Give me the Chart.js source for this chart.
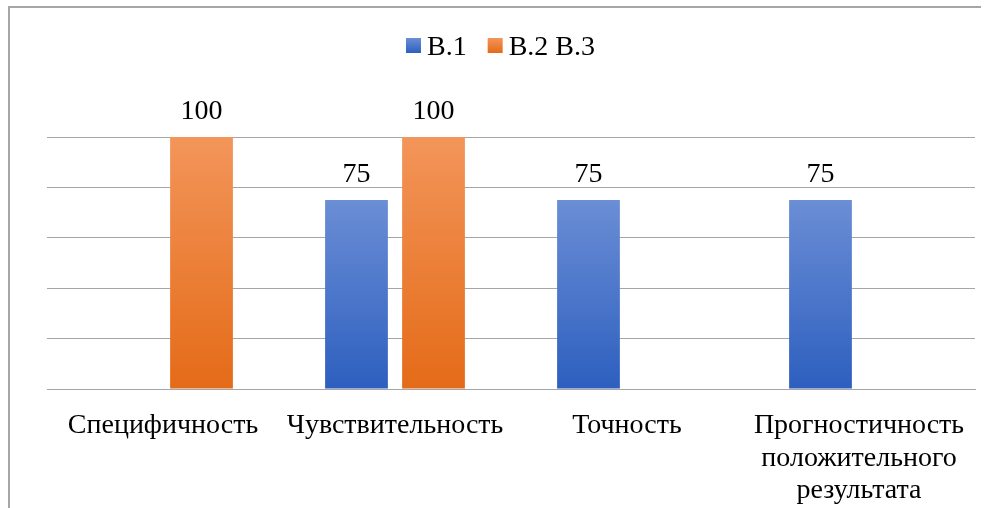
<!DOCTYPE html>
<html>
<head>
<meta charset="utf-8">
<script src="https://cdn.jsdelivr.net/npm/chart.js@4/dist/chart.umd.min.js"></script>
<style>
  html, body { margin: 0; padding: 0; background: #fff; }
  #wrap { position: relative; width: 985px; height: 508px; overflow: hidden; }
  #frame {
    position: absolute; left: 8px; top: 6px; width: 973px; height: 520px;
    border-top: 2px solid #a6a6a6; border-left: 2px solid #a6a6a6;
    box-sizing: border-box; pointer-events: none;
  }
</style>
</head>
<body>
<div id="wrap">
  <canvas id="chart" width="985" height="508"></canvas>
  <div id="frame"></div>
</div>
<script>
const categories = [
  "Специфичность",
  "Чувствительность",
  "Точность",
  ["Прогностичность", "положительного", "результата"],
];
const seriesNames = ["В.1", "В.2 В.3"];
const v1Values = [null, 75, 75, 75];
const v23Values = [100, 100, null, null];
const yTicks = [0, 20, 40, 60, 80, 100];

// top / bottom colours of the vertical gradient on each bar
const blueStops = ["#6b8ed5", "#2d5fbf"];
const orangeStops = ["#f3955a", "#e46b18"];
const FONT = "'Liberation Serif', 'Times New Roman', serif";

Chart.defaults.font.family = FONT;
Chart.defaults.color = "#000";

function barGradient(stops) {
  return (ctx) => {
    const chart = ctx.chart;
    const y = chart.scales.y;
    if (!chart.chartArea || !y || ctx.raw == null) return stops[1];
    const top = y.getPixelForValue(ctx.raw);
    const bottom = y.getPixelForValue(0);
    const g = chart.ctx.createLinearGradient(0, top, 0, bottom);
    g.addColorStop(0, stops[0]);
    g.addColorStop(1, stops[1]);
    return g;
  };
}

const valueLabels = {
  id: "valueLabels",
  afterDatasetsDraw(chart) {
    const ctx = chart.ctx;
    ctx.save();
    ctx.font = "28px " + FONT;
    ctx.fillStyle = "#000";
    ctx.textAlign = "center";
    ctx.textBaseline = "alphabetic";
    chart.data.datasets.forEach((ds, i) => {
      chart.getDatasetMeta(i).data.forEach((bar, j) => {
        if (ds.data[j] == null) return;
        ctx.fillText(ds.data[j], bar.x, bar.y - 18);
      });
    });
    ctx.restore();
  },
};

// legend drawn by hand: small square, tight gap, like the office chart
const topLegend = {
  id: "topLegend",
  afterDraw(chart) {
    const ctx = chart.ctx;
    ctx.save();
    ctx.font = "28px " + FONT;
    ctx.textBaseline = "alphabetic";
    ctx.textAlign = "left";
    const box = 15, gap = 6, spacing = 21;
    const widths = seriesNames.map((n) => ctx.measureText(n).width);
    const total = widths.reduce((a, w) => a + box + gap + w, 0) + spacing * (seriesNames.length - 1);
    let x = chart.width / 2 + 8 - total / 2;
    seriesNames.forEach((name, i) => {
      const stops = i === 0 ? blueStops : orangeStops;
      const g = ctx.createLinearGradient(0, 38, 0, 53);
      g.addColorStop(0, stops[0]);
      g.addColorStop(1, stops[1]);
      ctx.fillStyle = g;
      ctx.fillRect(x, 38, box, box);
      ctx.fillStyle = "#000";
      ctx.fillText(name, x + box + gap, 55);
      x += box + gap + widths[i] + spacing;
    });
    ctx.restore();
  },
};

new Chart(document.getElementById("chart"), {
  type: "bar",
  data: {
    labels: categories,
    datasets: [
      { label: seriesNames[0], data: v1Values, backgroundColor: barGradient(blueStops) },
      { label: seriesNames[1], data: v23Values, backgroundColor: barGradient(orangeStops) },
    ],
  },
  options: {
    responsive: false,
    animation: false,
    layout: { padding: { left: 47, right: 10, top: 137, bottom: 0 } },
    plugins: {
      legend: { display: false },
      tooltip: { enabled: false },
    },
    datasets: {
      bar: { categoryPercentage: 0.664, barPercentage: 0.815 },
    },
    scales: {
      x: {
        grid: { display: false },
        border: { color: "#a6a6a6" },
        afterFit(axis) { axis.height = 119; },
        ticks: {
          font: { size: 28, lineHeight: 1.15 },
          maxRotation: 0,
          autoSkip: false,
          padding: 13,
        },
      },
      y: {
        min: 0,
        max: 100,
        afterBuildTicks(axis) { axis.ticks = yTicks.map((v) => ({ value: v })); },
        ticks: { display: false },
        border: { display: false },
        grid: { color: "#a6a6a6", drawTicks: false },
      },
    },
  },
  plugins: [valueLabels, topLegend],
});
</script>
</body>
</html>
